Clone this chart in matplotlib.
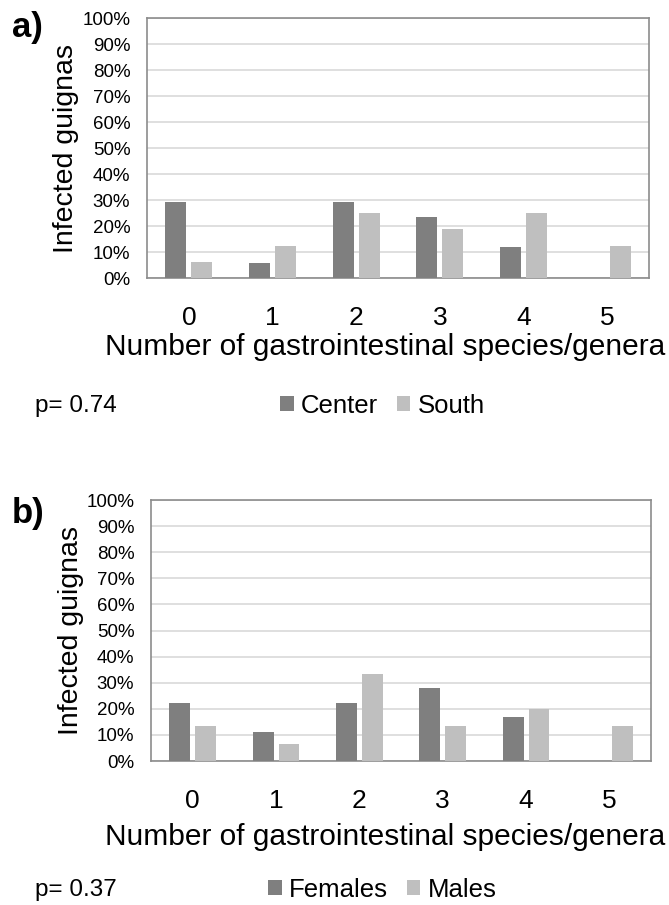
import matplotlib.pyplot as plt
import numpy as np

plt.rcParams['font.family'] = ['Liberation Sans', 'DejaVu Sans']

categories = ["0", "1", "2", "3", "4", "5"]

center = [29.4, 5.9, 29.4, 23.5, 11.8, 0]
south = [6.25, 12.5, 25.0, 18.75, 25.0, 12.5]

females = [22.2, 11.1, 22.2, 27.8, 16.7, 0]
males = [13.3, 6.7, 33.3, 13.3, 20.0, 13.3]

DARK = "#7f7f7f"
LIGHT = "#bfbfbf"

W, H = 669, 905
fig = plt.figure(figsize=(W / 100, H / 100), dpi=100)


def px_rect(l, t, r, b):
    return [l / W, 1 - b / H, (r - l) / W, (b - t) / H]


def panel(box, s1, s2, names, letter, letter_y, xlab_y, ylab_x, pval, leg_x, leg_y):
    l, t, r, b = box
    ax = fig.add_axes(px_rect(l, t, r, b))
    x = np.arange(len(categories))
    ax.bar(x - 0.155, s1, width=0.25, color=DARK, label=names[0], zorder=3)
    ax.bar(x + 0.155, s2, width=0.25, color=LIGHT, label=names[1], zorder=3)
    ax.set_xlim(-0.5, len(categories) - 0.5)
    ax.set_ylim(0, 100)
    ax.set_yticks(np.arange(0, 101, 10))
    ax.set_yticklabels(["%d%%" % v for v in range(0, 101, 10)], fontsize=13.5)
    ax.set_xticks(x)
    ax.set_xticklabels(categories, fontsize=19)
    ax.tick_params(axis="both", length=0)
    ax.tick_params(axis="x", pad=20)
    ax.tick_params(axis="y", pad=12)
    ax.grid(axis="y", color="#d9d9d9", linewidth=1.2, zorder=0)
    for sp in ax.spines.values():
        sp.set_color("#8c8c8c")
        sp.set_linewidth(1.2)
    ax.set_xlabel("Number of gastrointestinal species/genera", fontsize=21.5)
    ax.xaxis.set_label_coords((385 - l) / (r - l), (b - xlab_y) / (b - t))
    ax.xaxis.label.set_va("center")
    ax.set_ylabel("Infected guignas", fontsize=20.5)
    ax.yaxis.set_label_coords((ylab_x - l) / (r - l), 0.5)
    fig.text(12 / W, 1 - letter_y / H, letter, fontsize=25, fontweight="bold", va="center")
    fig.text(35 / W, 1 - leg_y / H, pval, fontsize=17.5, va="center")
    fig.legend(handles=ax.get_legend_handles_labels()[0], labels=names,
               loc="center left", bbox_to_anchor=(leg_x / W, 1 - leg_y / H),
               ncol=2, frameon=False, fontsize=18.5, handlelength=0.53,
               handleheight=0.53, handletextpad=0.28, columnspacing=0.73,
               borderaxespad=0, borderpad=0)
    return ax


panel((147, 18, 649, 278), center, south, ["Center", "South"],
      "a)", 28, 347, 79, "p= 0.74", 280, 406)
panel((151, 500, 651, 761), females, males, ["Females", "Males"],
      "b)", 514, 837, 84, "p= 0.37", 268, 890)

fig.savefig("out.png", dpi=100)
